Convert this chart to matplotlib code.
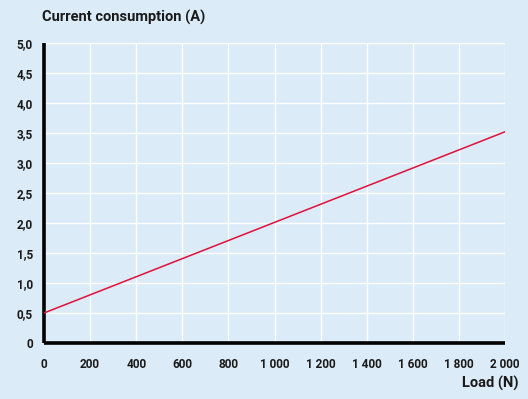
import matplotlib
matplotlib.use("Agg")
import matplotlib.pyplot as plt
import numpy as np

load = [0, 2000]
current = [0.5, 3.52]
x_ticks = [0, 200, 400, 600, 800, 1000, 1200, 1400, 1600, 1800, 2000]
x_labels = ["0", "200", "400", "600", "800", "1 000", "1 200", "1 400", "1 600", "1 800", "2 000"]
y_ticks = [0, 0.5, 1.0, 1.5, 2.0, 2.5, 3.0, 3.5, 4.0, 4.5, 5.0]
y_labels = ["0", "0,5", "1,0", "1,5", "2,0", "2,5", "3,0", "3,5", "4,0", "4,5", "5,0"]

bg = "#dbebf7"
plt.rcParams['font.family'] = ['Roboto', 'DejaVu Sans']

fig = plt.figure(figsize=(5.28, 3.99), dpi=100, facecolor=bg)
ax = fig.add_axes([44/528, 1-343/399, (505-44)/528, (343-43)/399])
ax.set_facecolor(bg)
ax.plot(load, current, color="#e0103a", lw=1.1, zorder=3)
ax.set_xlim(0, 2000)
ax.set_ylim(0, 5)
ax.set_xticks(x_ticks)
ax.set_xticklabels(x_labels)
ax.set_yticks(y_ticks)
ax.set_yticklabels(y_labels)
ax.grid(True, color="white", lw=1.0, zorder=1)
ax.set_axisbelow(True)
for s in ["top", "right"]:
    ax.spines[s].set_visible(False)
for s in ["left", "bottom"]:
    ax.spines[s].set_linewidth(2.6)
    ax.spines[s].set_color("black")
    ax.spines[s].set_capstyle("butt")
ax.tick_params(axis="x", length=0, pad=11, labelsize=8.5)
ax.tick_params(axis="y", length=0, pad=8, labelsize=8.5)
for lab in ax.get_xticklabels() + ax.get_yticklabels():
    lab.set_fontweight("bold")
    lab.set_color("#1a1a1a")
fig.text(42/528, 1-17/399, "Current consumption (A)", fontsize=10.5, fontweight="bold",
         color="#1a1a1a", ha="left", va="center")
fig.text(519/528, 1-383/399, "Load (N)", fontsize=10.5, fontweight="bold",
         color="#1a1a1a", ha="right", va="center")
fig.savefig("out.png", dpi=100, facecolor=bg)
